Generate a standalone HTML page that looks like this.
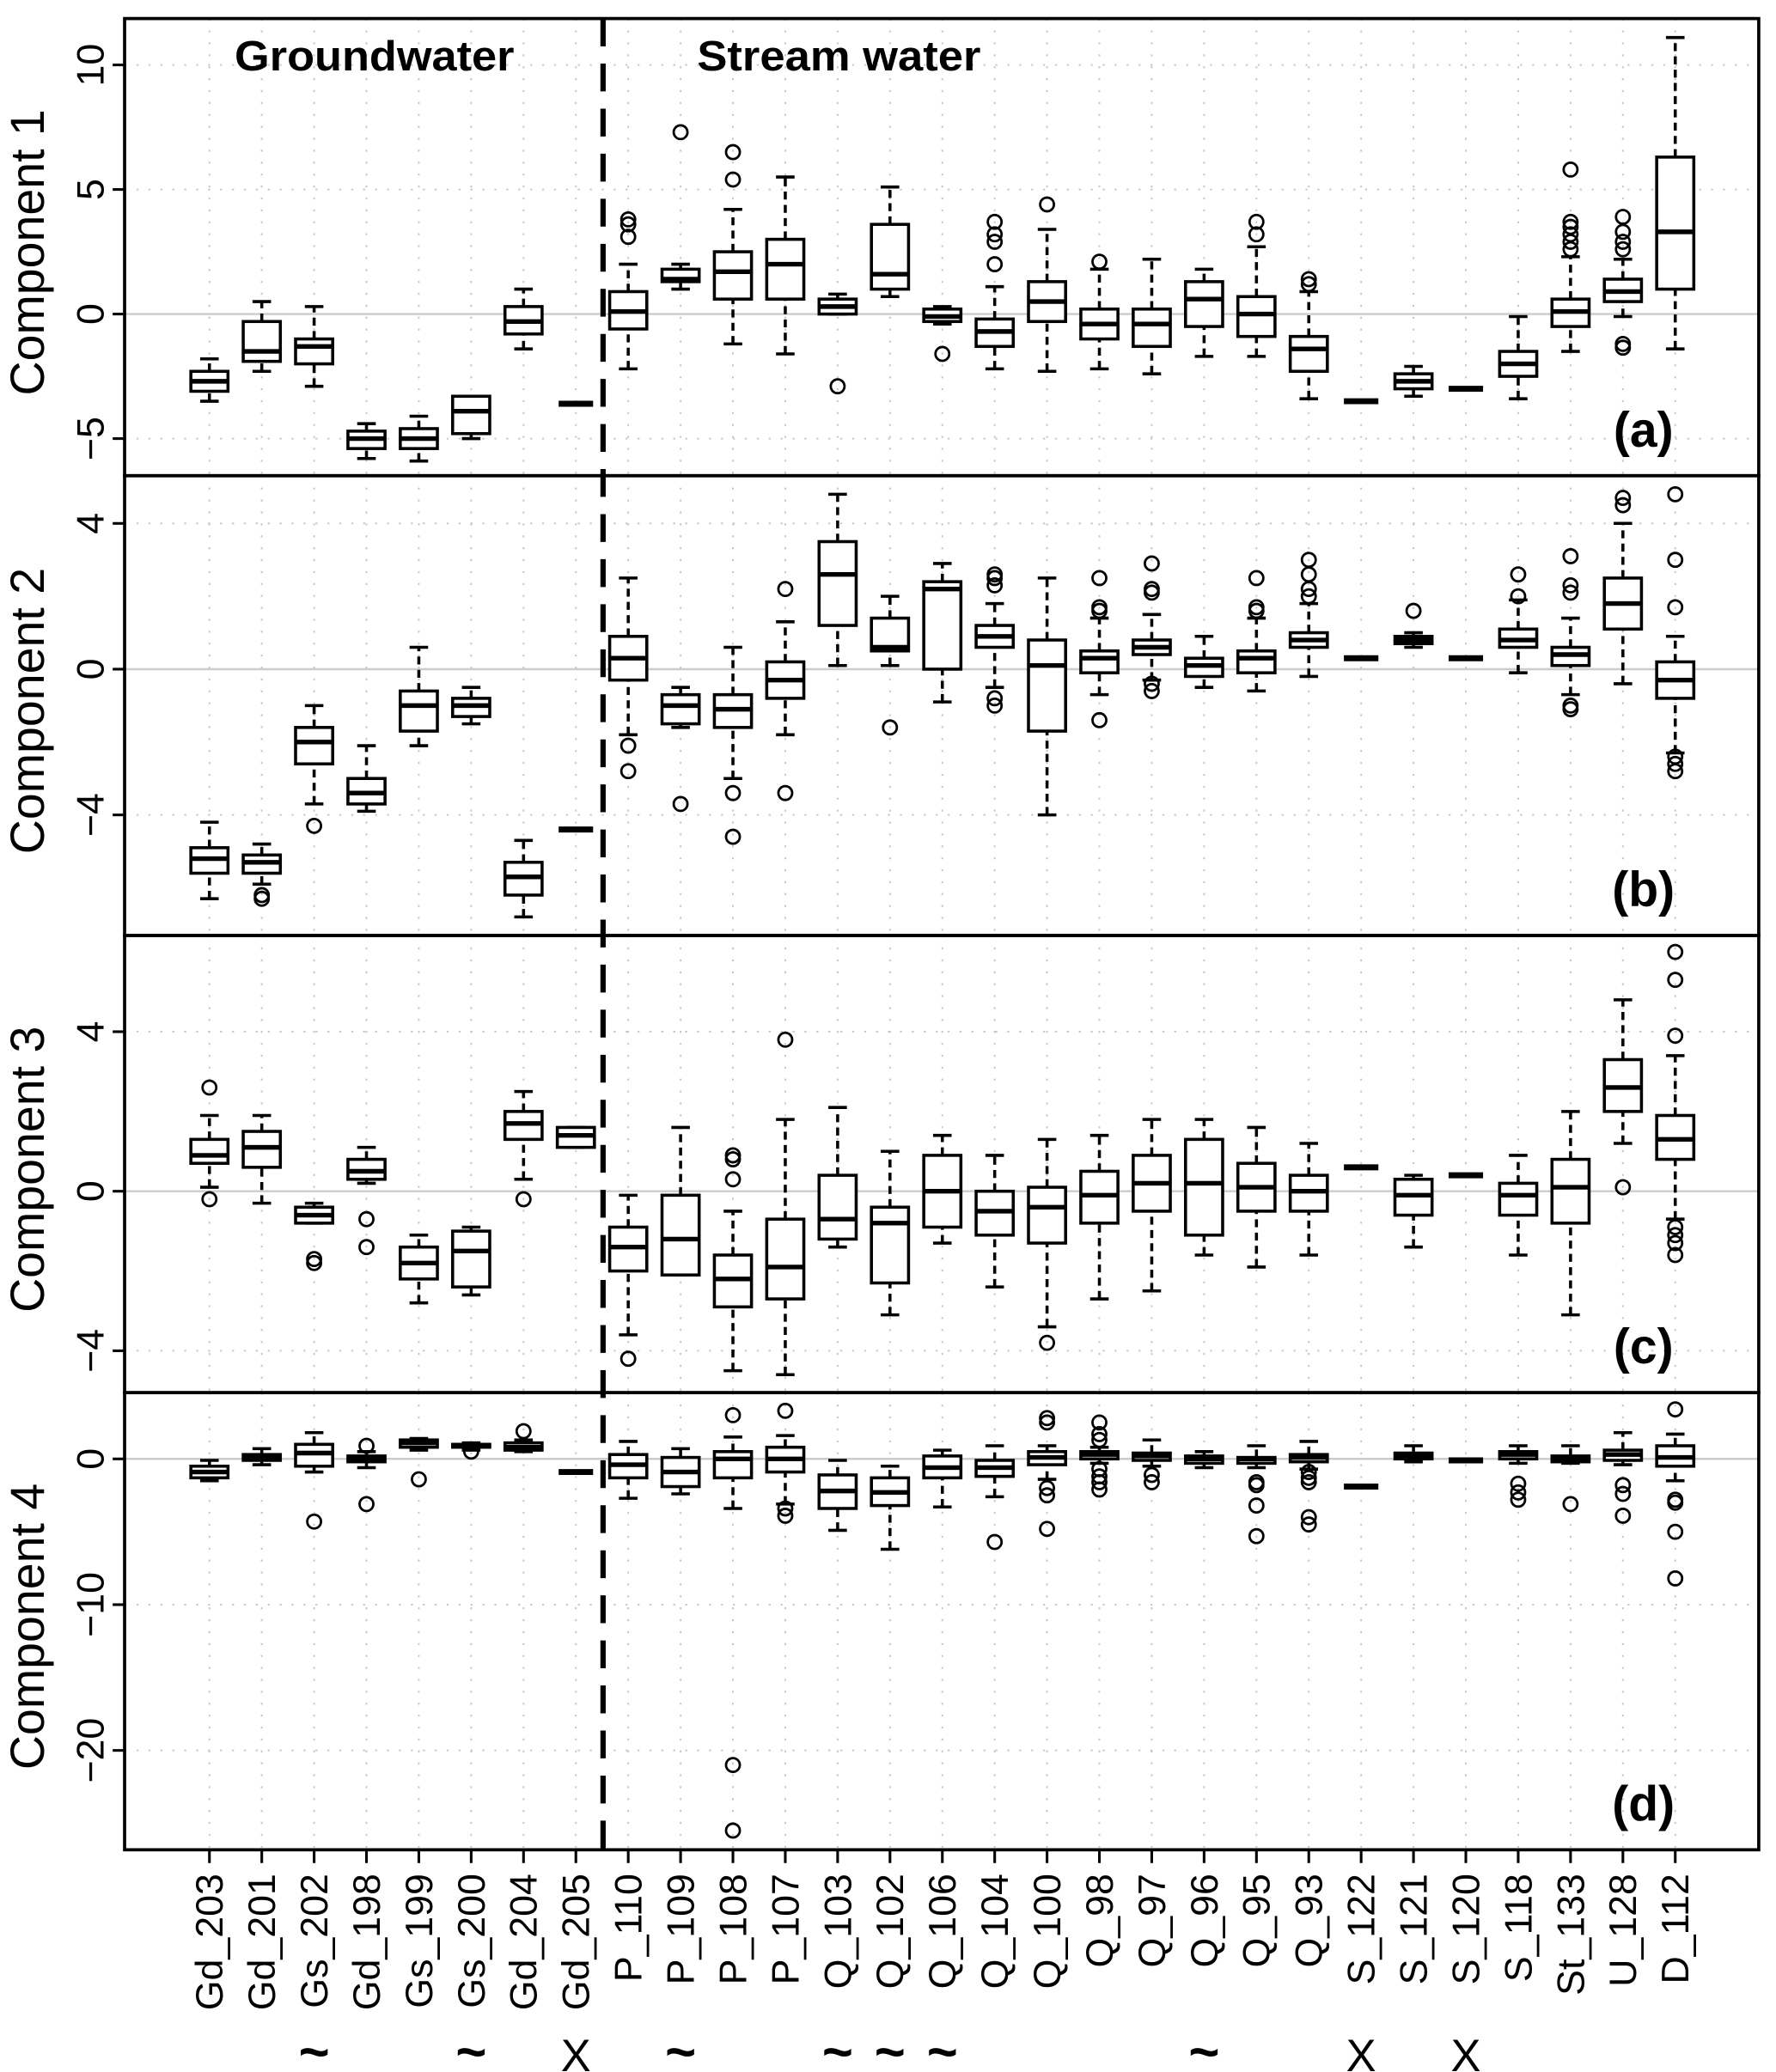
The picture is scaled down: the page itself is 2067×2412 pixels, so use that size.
<!DOCTYPE html>
<html><head><meta charset="utf-8"><style>
html,body{margin:0;padding:0;background:#fff}
svg{display:block}
text{font-family:"Liberation Sans",Arial,sans-serif}
</style></head><body>
<svg id="chart" width="2067" height="2412" viewBox="0 0 1340 1563.7" xmlns="http://www.w3.org/2000/svg"></svg>
<script>
const categories=["Gd_203","Gd_201","Gs_202","Gd_198","Gs_199","Gs_200","Gd_204","Gd_205","P_110","P_109","P_108","P_107","Q_103","Q_102","Q_106","Q_104","Q_100","Q_98","Q_97","Q_96","Q_95","Q_93","S_122","S_121","S_120","S_118","St_133","U_128","D_112"];
const tildeIdx=[2,5,9,12,13,14,19];
const xIdx=[7,22,24];
// [lowWhisker, q1, median, q3, highWhisker]
const statsA=[[-3.5,-3.1,-2.7,-2.3,-1.8],[-2.3,-1.9,-1.5,-0.3,0.5],[-2.9,-2.0,-1.3,-1.0,0.3],[-5.8,-5.4,-5.0,-4.7,-4.4],[-5.9,-5.4,-5.0,-4.6,-4.1],[-5.0,-4.8,-3.9,-3.3,-3.3],[-1.4,-0.8,-0.3,0.3,1.0],[-3.6,-3.6,-3.6,-3.6,-3.6],[-2.2,-0.6,0.1,0.9,2.0],[1.0,1.3,1.4,1.8,2.0],[-1.2,0.6,1.7,2.5,4.2],[-1.6,0.6,2.0,3.0,5.5],[0.0,0.0,0.3,0.6,0.8],[0.7,1.0,1.6,3.6,5.1],[-0.4,-0.3,-0.1,0.2,0.3],[-2.2,-1.3,-0.7,-0.2,1.1],[-2.3,-0.3,0.5,1.3,3.4],[-2.2,-1.0,-0.4,0.2,1.8],[-2.4,-1.3,-0.4,0.2,2.2],[-1.7,-0.5,0.6,1.3,1.8],[-1.7,-0.9,0.0,0.7,2.7],[-3.4,-2.3,-1.4,-0.9,0.9],[-3.5,-3.5,-3.5,-3.5,-3.5],[-3.3,-3.0,-2.7,-2.4,-2.1],[-3.0,-3.0,-3.0,-3.0,-3.0],[-3.4,-2.5,-2.0,-1.5,-0.1],[-1.5,-0.5,0.1,0.6,2.3],[-0.1,0.5,0.9,1.4,2.2],[-1.4,1.0,3.3,6.3,11.1]];
const outA=[[],[],[],[],[],[],[],[],[3.1,3.6,3.8],[7.3],[5.4,6.5],[],[-2.9],[],[-1.6],[2.0,2.9,3.2,3.7],[4.4],[2.1],[],[],[3.2,3.7],[1.2,1.4],[],[],[],[],[2.6,2.9,3.2,3.5,3.7,5.8],[-1.2,-1.35,2.6,2.9,3.3,3.9],[]];
const statsB=[[-6.3,-5.6,-5.2,-4.9,-4.2],[-5.9,-5.6,-5.3,-5.1,-4.8],[-3.7,-2.6,-2.0,-1.6,-1.0],[-3.9,-3.7,-3.4,-3.0,-2.1],[-2.1,-1.7,-1.0,-0.6,0.6],[-1.5,-1.3,-1.0,-0.8,-0.5],[-6.8,-6.2,-5.7,-5.3,-4.7],[-4.4,-4.4,-4.4,-4.4,-4.4],[-1.8,-0.3,0.3,0.9,2.5],[-1.6,-1.5,-1.0,-0.7,-0.5],[-3.0,-1.6,-1.1,-0.7,0.6],[-1.8,-0.8,-0.3,0.2,1.3],[0.1,1.2,2.6,3.5,4.8],[0.1,0.5,0.6,1.4,2.0],[-0.9,0.0,2.2,2.4,2.9],[-0.5,0.6,0.9,1.2,1.8],[-4.0,-1.7,0.1,0.8,2.5],[-0.7,-0.1,0.3,0.5,1.4],[-0.3,0.4,0.6,0.8,1.5],[-0.5,-0.2,0.1,0.3,0.9],[-0.6,-0.1,0.3,0.5,1.4],[-0.2,0.6,0.8,1.0,1.8],[0.3,0.3,0.3,0.3,0.3],[0.6,0.7,0.8,0.9,1.0],[0.3,0.3,0.3,0.3,0.3],[-0.1,0.6,0.8,1.1,1.9],[-0.7,0.1,0.4,0.6,1.4],[-0.4,1.1,1.8,2.5,4.0],[-2.3,-0.8,-0.3,0.2,0.9]];
const outB=[[],[-6.2,-6.3],[-4.3],[],[],[],[],[],[-2.1,-2.8],[-3.7],[-3.4,-4.6],[-3.4,2.2],[],[-1.6],[],[-0.8,-1.0,2.3,2.5,2.6],[],[-1.4,1.6,1.7,2.5],[-0.4,-0.6,2.1,2.2,2.9],[],[1.6,1.7,2.5],[2.0,2.2,2.6,3.0],[],[1.6],[],[2.0,2.6],[-1.0,-1.1,2.1,2.3,3.1],[4.5,4.7],[-2.4,-2.6,-2.8,1.7,3.0,4.8]];
const statsC=[[0.1,0.7,0.9,1.3,1.9],[-0.3,0.6,1.1,1.5,1.9],[-0.8,-0.8,-0.6,-0.4,-0.3],[0.2,0.3,0.5,0.8,1.1],[-2.8,-2.2,-1.8,-1.4,-1.1],[-2.6,-2.4,-1.5,-1.0,-0.9],[0.3,1.3,1.7,2.0,2.5],[1.1,1.1,1.4,1.6,1.6],[-3.6,-2.0,-1.4,-0.9,-0.1],[-2.1,-2.1,-1.2,-0.1,1.6],[-4.5,-2.9,-2.2,-1.6,-0.5],[-4.6,-2.7,-1.9,-0.7,1.8],[-1.4,-1.2,-0.7,0.4,2.1],[-3.1,-2.3,-0.8,-0.4,1.0],[-1.3,-0.9,0.0,0.9,1.4],[-2.4,-1.1,-0.5,0.0,0.9],[-3.4,-1.3,-0.4,0.1,1.3],[-2.7,-0.8,-0.1,0.5,1.4],[-2.5,-0.5,0.2,0.9,1.8],[-1.6,-1.1,0.2,1.3,1.8],[-1.9,-0.5,0.1,0.7,1.6],[-1.6,-0.5,0.0,0.4,1.2],[0.6,0.6,0.6,0.6,0.6],[-1.4,-0.6,-0.1,0.3,0.4],[0.4,0.4,0.4,0.4,0.4],[-1.6,-0.6,-0.1,0.2,0.9],[-3.1,-0.8,0.1,0.8,2.0],[1.2,2.0,2.6,3.3,4.8],[-0.7,0.8,1.3,1.9,3.4]];
const outC=[[-0.2,2.6],[],[-1.7,-1.8],[-0.7,-1.4],[],[],[-0.2],[],[-4.2],[],[0.3,0.8,0.9],[3.8],[],[],[],[],[-3.8],[],[],[],[],[],[],[],[],[],[],[0.1],[-0.9,-1.1,-1.3,-1.6,3.9,5.3,6.0]];
const statsD=[[-1.5,-1.3,-0.9,-0.5,-0.1],[-0.4,-0.1,0.1,0.3,0.7],[-0.9,-0.5,0.4,1.0,1.8],[-0.6,-0.2,0.0,0.2,0.5],[0.6,0.8,1.1,1.3,1.4],[0.6,0.8,0.9,1.0,1.1],[0.5,0.6,0.8,1.1,1.3],[-0.9,-0.9,-0.9,-0.9,-0.9],[-2.7,-1.3,-0.4,0.3,1.2],[-2.4,-1.9,-0.9,0.1,0.7],[-3.4,-1.3,0.0,0.5,1.5],[-3.1,-0.9,0.0,0.8,1.6],[-4.9,-3.4,-2.2,-1.1,-0.1],[-6.2,-3.2,-2.3,-1.3,-0.5],[-3.3,-1.3,-0.6,0.2,0.6],[-2.6,-1.2,-0.6,-0.1,0.9],[-1.4,-0.4,0.1,0.5,0.9],[-0.3,0.0,0.3,0.5,0.8],[-0.5,-0.1,0.2,0.4,1.3],[-0.6,-0.3,0.0,0.2,0.5],[-0.6,-0.3,0.0,0.1,0.9],[-0.7,-0.2,0.1,0.3,1.2],[-1.9,-1.9,-1.9,-1.9,-1.9],[-0.2,0.0,0.2,0.4,0.9],[-0.1,-0.1,-0.1,-0.1,-0.1],[-0.3,0.0,0.3,0.5,0.9],[-0.3,-0.2,0.0,0.2,0.9],[-0.4,-0.1,0.3,0.6,1.8],[-1.5,-0.5,0.1,0.9,1.7]];
const outD=[[],[],[-4.3],[0.9,-3.1],[-1.4],[0.5],[1.9],[],[],[],[3.0,-21.0,-25.5],[3.3,-3.4,-3.9],[],[],[],[-5.7],[2.5,2.8,-2.0,-2.5,-4.8],[1.3,1.7,2.5,-0.7,-1.2,-1.6,-2.1],[-1.1,-1.6],[],[-1.6,-1.8,-3.2,-5.3],[-0.9,-1.3,-1.6,-4.0,-4.5],[],[],[],[-1.7,-2.3,-2.8],[-3.1],[-1.8,-2.4,-3.9],[3.4,-2.8,-3.0,-5.0,-8.2]];
const ticksA=[-5,0,5,10], ticksB=[-4,0,4], ticksC=[-4,0,4], ticksD=[-20,-10,0];

const NS="http://www.w3.org/2000/svg";
const svg=document.getElementById("chart");
function mk(tag,attrs,parent,txt){const e=document.createElementNS(NS,tag);for(const k in attrs)e.setAttribute(k,attrs[k]);if(txt!==undefined)e.textContent=txt;(parent||svg).appendChild(e);return e;}
const L=94,R=1327,x0=158,dx=39.5;
const xOf=i=>x0+i*dx;
const panels=[
 {top:14,bot:359,zero:237,k:18.8,stats:statsA,out:outA,ticks:ticksA,title:"Component 1",letter:"(a)",name:"a"},
 {top:359,bot:706,zero:505,k:27.5,stats:statsB,out:outB,ticks:ticksB,title:"Component 2",letter:"(b)",name:"b"},
 {top:706,bot:1051,zero:899,k:30.1,stats:statsC,out:outC,ticks:ticksC,title:"Component 3",letter:"(c)",name:"c"},
 {top:1051,bot:1396,zero:1101,k:11,stats:statsD,out:outD,ticks:ticksD,title:"Component 4",letter:"(d)",name:"d"}];
panels.forEach(p=>{
 const y=v=>p.zero-p.k*v;
 const g=mk("g",{});
 
 
 categories.forEach((c,i)=>{const l=mk("line",{x1:xOf(i),x2:xOf(i),y1:p.top,y2:p.bot,stroke:"#c8c8c8","stroke-width":1.3,"stroke-dasharray":"1.5 7.5"},g);
  });
 p.ticks.forEach(t=>{ if(t!==0){const l=mk("line",{x1:L,x2:R,y1:y(t),y2:y(t),stroke:"#c8c8c8","stroke-width":1.3,"stroke-dasharray":"1.5 7.5"},g);
  }});
 const zl=mk("line",{x1:L,x2:R,y1:y(0),y2:y(0),stroke:"#cccccc","stroke-width":1.6},g);
 
 p.ticks.forEach(t=>{
  const tk=mk("line",{x1:L-9,x2:L,y1:y(t),y2:y(t),stroke:"#000","stroke-width":2},g);
  
  const lab=mk("text",{x:0,y:0,transform:`translate(78,${y(t)}) rotate(-90)`,"text-anchor":"middle","font-size":29},g,t<0?"\u2212"+(-t):String(t));
  
 });
 const yt=mk("text",{x:0,y:0,transform:`translate(33,${(p.top+p.bot)/2+4}) rotate(-90)`,"text-anchor":"middle","font-size":36},g,p.title);
 
 p.stats.forEach((s,i)=>{
  const x=xOf(i);const bg=mk("g",{stroke:"#000",fill:"none","stroke-width":2.3},g);
  
  if(s[0]===s[4]){const m=mk("line",{x1:x-13,x2:x+13,y1:y(s[2]),y2:y(s[2]),"stroke-width":4.5},bg);
   }
  else{
   const w1=mk("line",{x1:x,x2:x,y1:y(s[0]),y2:y(s[1]),"stroke-dasharray":"6 4"},bg);
   
   const w2=mk("line",{x1:x,x2:x,y1:y(s[3]),y2:y(s[4]),"stroke-dasharray":"6 4"},bg);
   
   [s[0],s[4]].forEach(v=>{const c=mk("line",{x1:x-7,x2:x+7,y1:y(v),y2:y(v)},bg);
    });
   const r=mk("rect",{x:x-14,y:y(s[3]),width:28,height:Math.max(0.5,y(s[1])-y(s[3])),fill:"#fff"},bg);
   
   const m=mk("line",{x1:x-14,x2:x+14,y1:y(s[2]),y2:y(s[2]),"stroke-width":3.5},bg);
   
  }
  p.out[i].forEach(v=>{const c=mk("circle",{cx:x,cy:y(v),r:5.2,"stroke-width":1.8},bg);
   });
 });
 const fr=mk("rect",{x:L,y:p.top,width:R-L,height:p.bot-p.top,fill:"none",stroke:"#000","stroke-width":2.4},g);
 
 const lt=mk("text",{x:1240,y:p.bot-22,"text-anchor":"middle","font-size":37,"font-weight":"bold"},g,p.letter);
 
});
const dl=mk("line",{x1:455,x2:455,y1:14,y2:1396,stroke:"#000","stroke-width":4,"stroke-dasharray":"21 13"});

const t1=mk("text",{x:177,y:53,"font-size":32,"font-weight":"bold",textLength:211,lengthAdjust:"spacingAndGlyphs"},svg,"Groundwater");

const t2=mk("text",{x:526,y:53,"font-size":32,"font-weight":"bold",textLength:214,lengthAdjust:"spacingAndGlyphs"},svg,"Stream water");

categories.forEach((c,i)=>{
 const x=xOf(i);
 const tk=mk("line",{x1:x,x2:x,y1:1396,y2:1406,stroke:"#000","stroke-width":2});
 
 const lab=mk("text",{x:0,y:0,transform:`translate(${x+10},1414) rotate(-90)`,"text-anchor":"end","font-size":29},svg,c);
 
});
tildeIdx.forEach(i=>{const t=mk("text",{x:xOf(i),y:1562,"text-anchor":"middle","font-size":40,"font-weight":"bold"},svg,"~");
 });
xIdx.forEach(i=>{const t=mk("text",{x:xOf(i),y:1563,"text-anchor":"middle","font-size":34},svg,"X");
 });
</script>
</body></html>
